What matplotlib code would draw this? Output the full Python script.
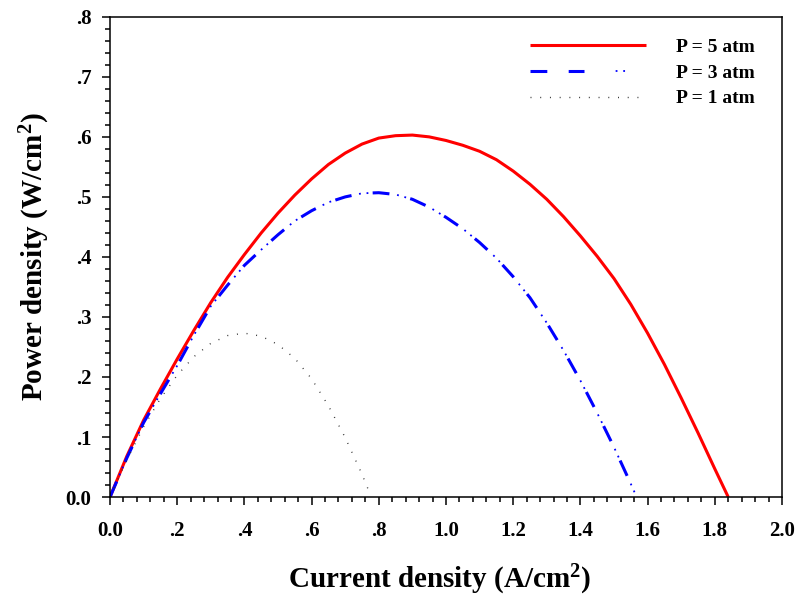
import numpy as np
import matplotlib
matplotlib.use('Agg')
import matplotlib.pyplot as plt
from matplotlib.ticker import MultipleLocator, FuncFormatter
from matplotlib.legend_handler import HandlerTuple

# current density (A/cm2) and power density (W/cm2)
current_5 = [0.00, 0.05, 0.10, 0.15, 0.20, 0.25, 0.30, 0.35, 0.40, 0.45, 0.50, 0.55, 0.60, 0.65,
             0.70, 0.75, 0.80, 0.85, 0.90, 0.95, 1.00, 1.05, 1.10, 1.15, 1.20, 1.25, 1.30, 1.35,
             1.40, 1.45, 1.50, 1.55, 1.60, 1.65, 1.70, 1.75, 1.80, 1.84]
power_5 = [0.000, 0.068, 0.128, 0.180, 0.230, 0.278, 0.324, 0.366, 0.404, 0.440, 0.473, 0.503, 0.530, 0.554,
           0.573, 0.588, 0.598, 0.602, 0.603, 0.600, 0.594, 0.586, 0.576, 0.562, 0.543, 0.521, 0.496, 0.467,
           0.435, 0.401, 0.364, 0.321, 0.273, 0.221, 0.165, 0.107, 0.047, 0.000]

current_3 = [0.00, 0.05, 0.10, 0.15, 0.20, 0.25, 0.30, 0.35, 0.40, 0.45, 0.50, 0.55, 0.60, 0.65,
             0.70, 0.75, 0.80, 0.85, 0.90, 0.95, 1.00, 1.05, 1.10, 1.15, 1.20, 1.25, 1.30, 1.35,
             1.40, 1.45, 1.50, 1.55, 1.565]
power_3 = [0.000, 0.065, 0.124, 0.172, 0.219, 0.270, 0.318, 0.353, 0.386, 0.412, 0.437, 0.460, 0.477, 0.491,
           0.500, 0.506, 0.507, 0.504, 0.496, 0.483, 0.466, 0.447, 0.424, 0.398, 0.367, 0.332, 0.290, 0.244,
           0.194, 0.140, 0.083, 0.022, 0.003]

current_1 = [0.00, 0.05, 0.10, 0.15, 0.20, 0.25, 0.30, 0.35, 0.40, 0.45, 0.50, 0.55, 0.60, 0.65,
             0.70, 0.75, 0.774]
power_1 = [0.000, 0.062, 0.117, 0.164, 0.203, 0.234, 0.256, 0.269, 0.273, 0.268, 0.254, 0.231, 0.197, 0.152,
           0.099, 0.038, 0.005]

labels = ['P = 5 atm', 'P = 3 atm', 'P = 1 atm']

plt.rcParams['font.family'] = 'Liberation Serif'
plt.rcParams['font.weight'] = 'bold'
plt.rcParams['mathtext.fontset'] = 'custom'
plt.rcParams['mathtext.rm'] = 'Liberation Serif:bold'
plt.rcParams['mathtext.bf'] = 'Liberation Serif:bold'
plt.rcParams['mathtext.it'] = 'Liberation Serif:bold'

fig = plt.figure(figsize=(7.99, 6.01), dpi=100)
ax = fig.add_axes([0.1377, 0.173, 0.841, 0.799])

l5, = ax.plot(current_5, power_5, color='#ff0000', linewidth=2.2, solid_capstyle='butt')
# dash-dot-dot: thick dashes plus thin dots along the same path
l3a, = ax.plot(current_3, power_3, color='#0000ff', linewidth=2.2, linestyle=(0, (5.5, 7.0)),
               dash_capstyle='butt')
l3b, = ax.plot(current_3, power_3, color='#0000ff', linewidth=1.3,
               linestyle=(8.1, (1.0, 3.2, 1.0, 16.0)), dash_capstyle='butt')
l1, = ax.plot(current_1, power_1, color='#333333', linewidth=1.0, linestyle=(0, (0.7, 6.3)),
              dash_capstyle='butt')

ax.set_xlim(0, 2.0)
ax.set_ylim(0, 0.8)
ax.xaxis.set_major_locator(MultipleLocator(0.2))
ax.xaxis.set_minor_locator(MultipleLocator(0.04))
ax.yaxis.set_major_locator(MultipleLocator(0.1))
ax.yaxis.set_minor_locator(MultipleLocator(0.02))


def fmt(v, pos):
    s = '%.1f' % v
    if s.startswith('0.') and s != '0.0':
        s = s[1:]
    return s


ax.xaxis.set_major_formatter(FuncFormatter(fmt))
ax.yaxis.set_major_formatter(FuncFormatter(fmt))

ax.tick_params(which='major', direction='out', length=5.5, width=1.1, labelsize=15)
ax.tick_params(which='minor', direction='out', length=3.5, width=1.1)
ax.tick_params(axis='x', which='major', pad=12)
ax.tick_params(axis='y', which='major', pad=8)
for sp in ax.spines.values():
    sp.set_linewidth(1.1)

ax.set_xlabel('Current density (A/cm$^2$)', fontsize=21, fontweight='bold')
ax.set_ylabel('Power density (W/cm$^2$)', fontsize=21, fontweight='bold', labelpad=10)
ax.xaxis.set_label_coords(0.49, -0.172, transform=ax.transAxes)
ax.xaxis.label.set_verticalalignment('center')

ax.legend([l5, (l3a, l3b), l1], labels, handler_map={tuple: HandlerTuple(ndivide=None)},
          loc='upper right', bbox_to_anchor=(0.985, 0.992), frameon=False,
          prop={'family': 'Liberation Serif', 'weight': 'bold', 'size': 14},
          handlelength=6.0, handletextpad=1.5, labelspacing=0.42)

fig.savefig('out.png', dpi=100)
